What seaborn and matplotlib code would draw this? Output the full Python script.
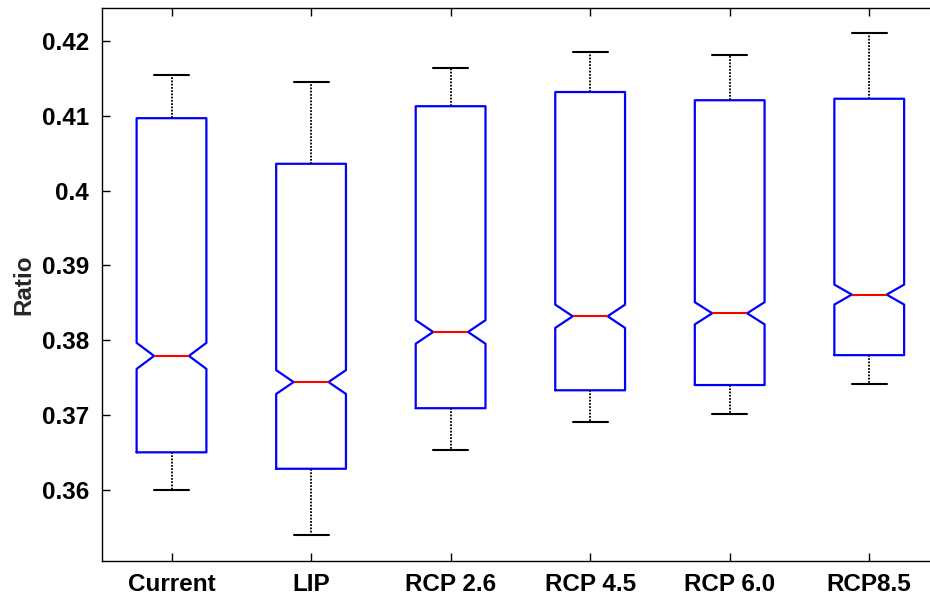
import matplotlib
matplotlib.use("Agg")
import matplotlib.pyplot as plt
import seaborn as sns

# scenarios on the x axis
categories = ["Current", "LIP", "RCP 2.6", "RCP 4.5", "RCP 6.0", "RCP8.5"]

# box statistics
whisker_low = [0.3599, 0.3540, 0.3653, 0.3691, 0.3701, 0.3742]
q1 = [0.3650, 0.3628, 0.3709, 0.3733, 0.3740, 0.3780]
median = [0.3779, 0.3744, 0.3811, 0.3832, 0.3836, 0.3861]
q3 = [0.4097, 0.4036, 0.4113, 0.4132, 0.4121, 0.4123]
whisker_high = [0.4155, 0.4145, 0.4164, 0.4185, 0.4182, 0.4211]
# notch half-width relative to IQR (1.57/sqrt(n))
notch_ratio = 0.039

sns.set_style("ticks")
plt.rcParams["font.family"] = ["Liberation Sans", "DejaVu Sans"]
plt.rcParams["font.weight"] = "bold"

stats = []
for i, cat in enumerate(categories):
    iqr = q3[i] - q1[i]
    half = notch_ratio * iqr
    stats.append({
        "label": cat,
        "whislo": whisker_low[i],
        "q1": q1[i],
        "med": median[i],
        "q3": q3[i],
        "whishi": whisker_high[i],
        "cilo": median[i] - half,
        "cihi": median[i] + half,
        "fliers": [],
    })

fig = plt.figure(figsize=(9.30, 5.97), dpi=100)
ax = fig.add_axes([0.1094, 0.0608, 0.9003, 0.9253])

ax.bxp(stats, positions=range(1, len(categories) + 1), widths=0.5,
       shownotches=True, showfliers=False,
       boxprops=dict(color="#0000ff", linewidth=1.6),
       medianprops=dict(color="#ff0000", linewidth=1.5),
       whiskerprops=dict(color="black", linewidth=1.3, linestyle=(0, (1, 0.8))),
       capprops=dict(color="black", linewidth=1.5))

ax.set_xlim(0.5, 6.5)
ax.set_ylim(0.3505, 0.4244)
ax.set_yticks([0.36, 0.37, 0.38, 0.39, 0.40, 0.41, 0.42])
ax.set_yticklabels(["0.36", "0.37", "0.38", "0.39", "0.4", "0.41", "0.42"])
ax.set_xticks(range(1, len(categories) + 1))
ax.set_xticklabels(categories)

ax.tick_params(direction="in", length=6, width=1, top=True, right=True,
               labelsize=17.5, pad=9, colors="black")
for lab in ax.get_xticklabels() + ax.get_yticklabels():
    lab.set_fontweight("bold")
for s in ax.spines.values():
    s.set_visible(True)
    s.set_color("black")
    s.set_linewidth(1.0)

ax.set_ylabel("Ratio", fontsize=17.5, fontweight="bold", labelpad=5)

fig.savefig("out.png", dpi=100)
